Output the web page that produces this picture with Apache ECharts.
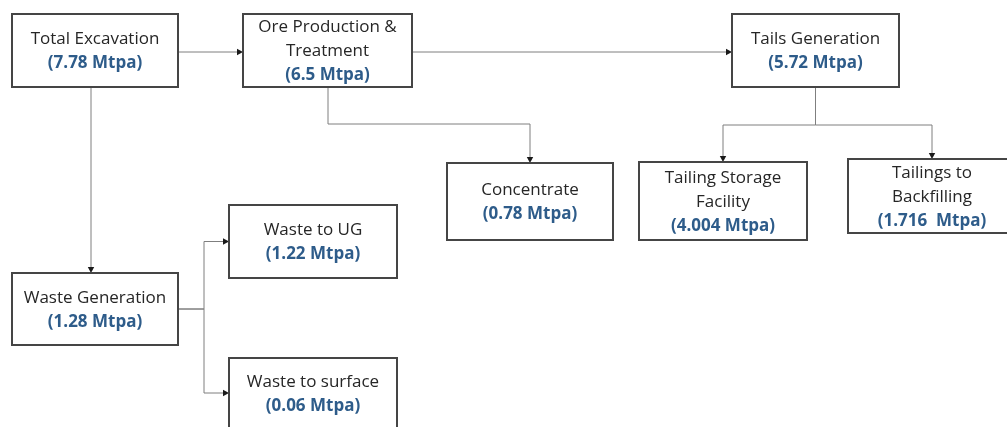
<!DOCTYPE html>
<html>
<head>
<meta charset="utf-8">
<script src="https://cdn.jsdelivr.net/npm/echarts@6/dist/echarts.min.js"></script>
<style>html,body{margin:0;padding:0;background:#fff}#c{width:1007px;height:427px}</style>
</head>
<body>
<div id="c"></div>
<script>
// ---- data ----
var nodeNames = ['Total Excavation', 'Ore Production &\nTreatment', 'Tails Generation', 'Concentrate',
  'Tailing Storage\nFacility', 'Tailings to\nBackfilling', 'Waste Generation', 'Waste to UG', 'Waste to surface'];
var nodeValues = ['7.78', '6.5', '5.72', '0.78', '4.004', '1.716 ', '1.28', '1.22', '0.06'];
var linkFrom = [0, 1, 1, 2, 2, 0, 6, 6];
var linkTo   = [1, 2, 3, 4, 5, 6, 7, 8];

// ---- layout (box rectangles: x, y, w, h in px) ----
var boxLayout = [
  [12, 14, 166, 73], [243, 14, 169, 73], [732, 14, 167, 73],
  [447, 163, 166, 77], [639, 162, 168, 78], [848, 159, 168, 74],
  [12, 273, 166, 72], [229, 205, 168, 73], [229, 358, 168, 70]
];
// route type per link: 'h' straight right, 'v' straight down, 'vhv' down-across-down, 'hvh' right-up/down-right
var linkRoute = ['h', 'h', 'vhv', 'vhv', 'vhv', 'v', 'hvh', 'hvh'];
var linkElbow = [0, 0, 124, 125, 125, 0, 204, 204];
var linkStartX = [0, 0, 328, 0, 0, 91, 0, 0];

function cx(b) { return b[0] + b[2] / 2; }
function cy(b) { return b[1] + b[3] / 2; }

var routes = linkFrom.map(function (f, i) {
  var s = boxLayout[f], t = boxLayout[linkTo[i]], r = linkRoute[i], pts;
  if (r === 'h') {
    var y = Math.round(cy(s)) + 1;
    pts = [[s[0] + s[2], y], [t[0], y]];
  } else if (r === 'v') {
    var x = linkStartX[i] || cx(s);
    pts = [[x, s[1] + s[3]], [x, t[1]]];
  } else if (r === 'vhv') {
    var sx = linkStartX[i] || cx(s), tx = cx(t);
    pts = [[sx, s[1] + s[3]], [sx, linkElbow[i]], [tx, linkElbow[i]], [tx, t[1]]];
  } else {
    var sy = cy(s), ty = cy(t);
    pts = [[s[0] + s[2], sy], [linkElbow[i], sy], [linkElbow[i], ty], [t[0], ty]];
  }
  return pts;
});

var boxData = boxLayout.map(function (b, i) { return [b[0], b[1], b[2], b[3], i]; });
var linkData = routes.map(function (r, i) { return [r[0][0], r[0][1], i]; });

var FONT = '"Open Sans", "Noto Sans", sans-serif';

var chart = echarts.init(document.getElementById('c'), null, { renderer: 'canvas' });
chart.setOption({
  animation: false,
  grid: { left: 0, right: 0, top: 0, bottom: 0 },
  xAxis: { type: 'value', min: 0, max: 1007, show: false },
  yAxis: { type: 'value', min: 0, max: 427, inverse: true, show: false },
  series: [
    {
      type: 'custom',
      coordinateSystem: 'cartesian2d',
      silent: true,
      z: 1,
      data: linkData,
      renderItem: function (params, api) {
        var pts = routes[api.value(2)].map(function (p) { return api.coord(p); });
        var n = pts.length, a = pts[n - 2], b = pts[n - 1];
        var dx = b[0] - a[0], dy = b[1] - a[1], len = Math.sqrt(dx * dx + dy * dy) || 1;
        var ux = dx / len, uy = dy / len, L = 6, W = 3.2;
        var base = [b[0] - ux * L, b[1] - uy * L];
        var line = pts.slice(0, n - 1).concat([base]);
        return {
          type: 'group',
          children: [
            { type: 'polyline', shape: { points: line }, style: { stroke: '#7f7f7f', lineWidth: 1, fill: null } },
            { type: 'polygon', shape: { points: [b, [base[0] - uy * W, base[1] + ux * W], [base[0] + uy * W, base[1] - ux * W]] },
              style: { fill: '#1a1a1a', stroke: null } }
          ]
        };
      }
    },
    {
      type: 'custom',
      coordinateSystem: 'cartesian2d',
      silent: true,
      z: 2,
      data: boxData,
      renderItem: function (params, api) {
        var p0 = api.coord([api.value(0), api.value(1)]);
        var p1 = api.coord([api.value(0) + api.value(2), api.value(1) + api.value(3)]);
        var idx = api.value(4);
        var w = p1[0] - p0[0], h = p1[1] - p0[1];
        return {
          type: 'group',
          children: [
            {
              type: 'rect',
              shape: { x: p0[0], y: p0[1], width: w, height: h },
              style: { fill: '#ffffff', stroke: '#454545', lineWidth: 2 }
            },
            {
              type: 'text',
              x: p0[0] + w / 2,
              y: p0[1] + h / 2 + 1,
              style: {
                text: nodeNames[idx] + '\n{v|(' + nodeValues[idx] + ' Mtpa)}',
                align: 'center',
                verticalAlign: 'middle',
                fontFamily: FONT,
                fontSize: 17,
                lineHeight: 24,
                fill: '#262626',
                rich: {
                  v: { fontFamily: FONT, fontSize: 17, fontWeight: 'bold', lineHeight: 24, fill: '#2e5c8a' }
                }
              }
            }
          ]
        };
      }
    }
  ]
});
</script>
</body>
</html>
